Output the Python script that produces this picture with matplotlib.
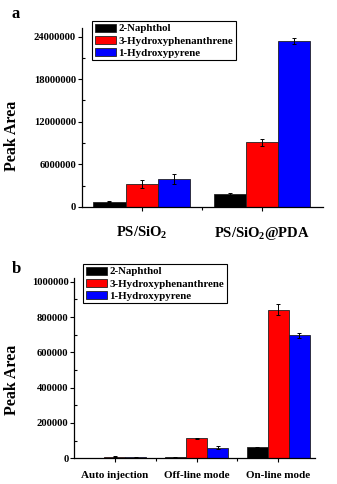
import numpy as np
import matplotlib
matplotlib.use("Agg")
from matplotlib import pyplot as plt
from matplotlib.ticker import MultipleLocator, FixedLocator, FormatStrFormatter

plt.rcParams["font.family"] = ["Liberation Serif", "DejaVu Serif"]
plt.rcParams["font.weight"] = "bold"
plt.rcParams["mathtext.fontset"] = "custom"
plt.rcParams["mathtext.rm"] = "Liberation Serif:bold"
plt.rcParams["mathtext.it"] = "Liberation Serif:bold"
plt.rcParams["mathtext.bf"] = "Liberation Serif:bold"

compounds = ["2-Naphthol", "3-Hydroxyphenanthrene", "1-Hydroxypyrene"]
colors = ["#000000", "#ff0000", "#0000ff"]

# (a) sorbent comparison
sorbents = ["PS/SiO$_2$", "PS/SiO$_2$@PDA"]
area_a = [
    [0.75e6, 1.80e6],    # 2-Naphthol
    [3.20e6, 9.10e6],    # 3-Hydroxyphenanthrene
    [3.95e6, 23.35e6],   # 1-Hydroxypyrene
]
err_a = [
    [0.05e6, 0.12e6],
    [0.55e6, 0.50e6],
    [0.65e6, 0.45e6],
]

# (b) injection mode comparison
modes = ["Auto injection", "Off-line mode", "On-line mode"]
area_b = [
    [2000, 5000, 62000],
    [9000, 114000, 842000],
    [5000, 60000, 697000],
]
err_b = [
    [500, 800, 2000],
    [1500, 3000, 30000],
    [800, 7000, 15000],
]

fig = plt.figure(figsize=(3.37, 4.84), dpi=100)
W, H = 337, 484


def px_axes(l, t, r, b):
    return fig.add_axes([l / W, 1 - b / H, (r - l) / W, (b - t) / H])


def draw(ax, labels, vals, errs, width, xlim, ylim, ystep, labsize, xpad):
    x = np.arange(1, len(labels) + 1)
    for i in range(3):
        ax.bar(x + (i - 1) * width, vals[i], width, color=colors[i],
               edgecolor="#222222", linewidth=0.6, label=compounds[i],
               yerr=errs[i], capsize=1.6,
               error_kw=dict(elinewidth=0.7, capthick=0.7, ecolor="black"))
    ax.set_xlim(*xlim)
    ax.set_ylim(*ylim)
    ax.set_xticks(x)
    ax.set_xticklabels(labels, fontsize=labsize, fontweight="bold")
    ax.xaxis.set_minor_locator(FixedLocator(x[:-1] + 0.5))
    ax.yaxis.set_major_locator(MultipleLocator(ystep))
    ax.yaxis.set_minor_locator(MultipleLocator(ystep / 2))
    ax.yaxis.set_major_formatter(FormatStrFormatter("%d"))
    ax.tick_params(axis="y", which="major", direction="out", length=3,
                   width=0.8, labelsize=7.6, pad=1)
    ax.tick_params(axis="y", which="minor", direction="in", length=2, width=0.8)
    ax.tick_params(axis="x", which="major", direction="out", length=3,
                   width=0.8, pad=xpad)
    ax.tick_params(axis="x", which="minor", direction="out", length=2, width=0.8)
    for lab in ax.get_yticklabels():
        lab.set_fontweight("bold")
    ax.spines["top"].set_visible(False)
    ax.spines["right"].set_visible(False)
    ax.spines["left"].set_linewidth(0.9)
    ax.spines["bottom"].set_linewidth(0.9)
    ax.set_ylabel("Peak Area", fontsize=11.5, fontweight="bold")


ax_a = px_axes(81.5, 28, 323, 207)
draw(ax_a, sorbents, area_a, err_a, 0.267, (0.5, 2.51), (0, 25.2e6), 6e6, 10.5, 10)
ax_a.yaxis.set_label_coords(20 / W, 1 - 136 / H, transform=fig.transFigure)

ax_b = px_axes(74, 277.7, 315, 458.3)
draw(ax_b, modes, area_b, err_b, 0.258, (0.5, 3.45), (0, 1.0226e6), 2e5, 8, 6)
ax_b.yaxis.set_label_coords(20 / W, 1 - 380 / H, transform=fig.transFigure)

leg_kw = dict(loc="upper left", bbox_transform=fig.transFigure, fancybox=False,
              edgecolor="black", framealpha=1, borderaxespad=0,
              prop=dict(family="Liberation Serif", weight="bold", size=7.8),
              handlelength=2.0, handleheight=0.75, handletextpad=0.2,
              labelspacing=0.22, borderpad=0.25)
la = ax_a.legend(bbox_to_anchor=(92 / W, 1 - 21 / H), **leg_kw)
la.get_frame().set_linewidth(0.8)
lb = ax_b.legend(bbox_to_anchor=(83 / W, 1 - 264 / H), **leg_kw)
lb.get_frame().set_linewidth(0.8)

fig.text(12 / W, 1 - 14 / H, "a", fontsize=12, fontweight="bold", ha="left", va="center")
fig.text(12 / W, 1 - 269 / H, "b", fontsize=12, fontweight="bold", ha="left", va="center")

fig.savefig("out.png", dpi=100)
